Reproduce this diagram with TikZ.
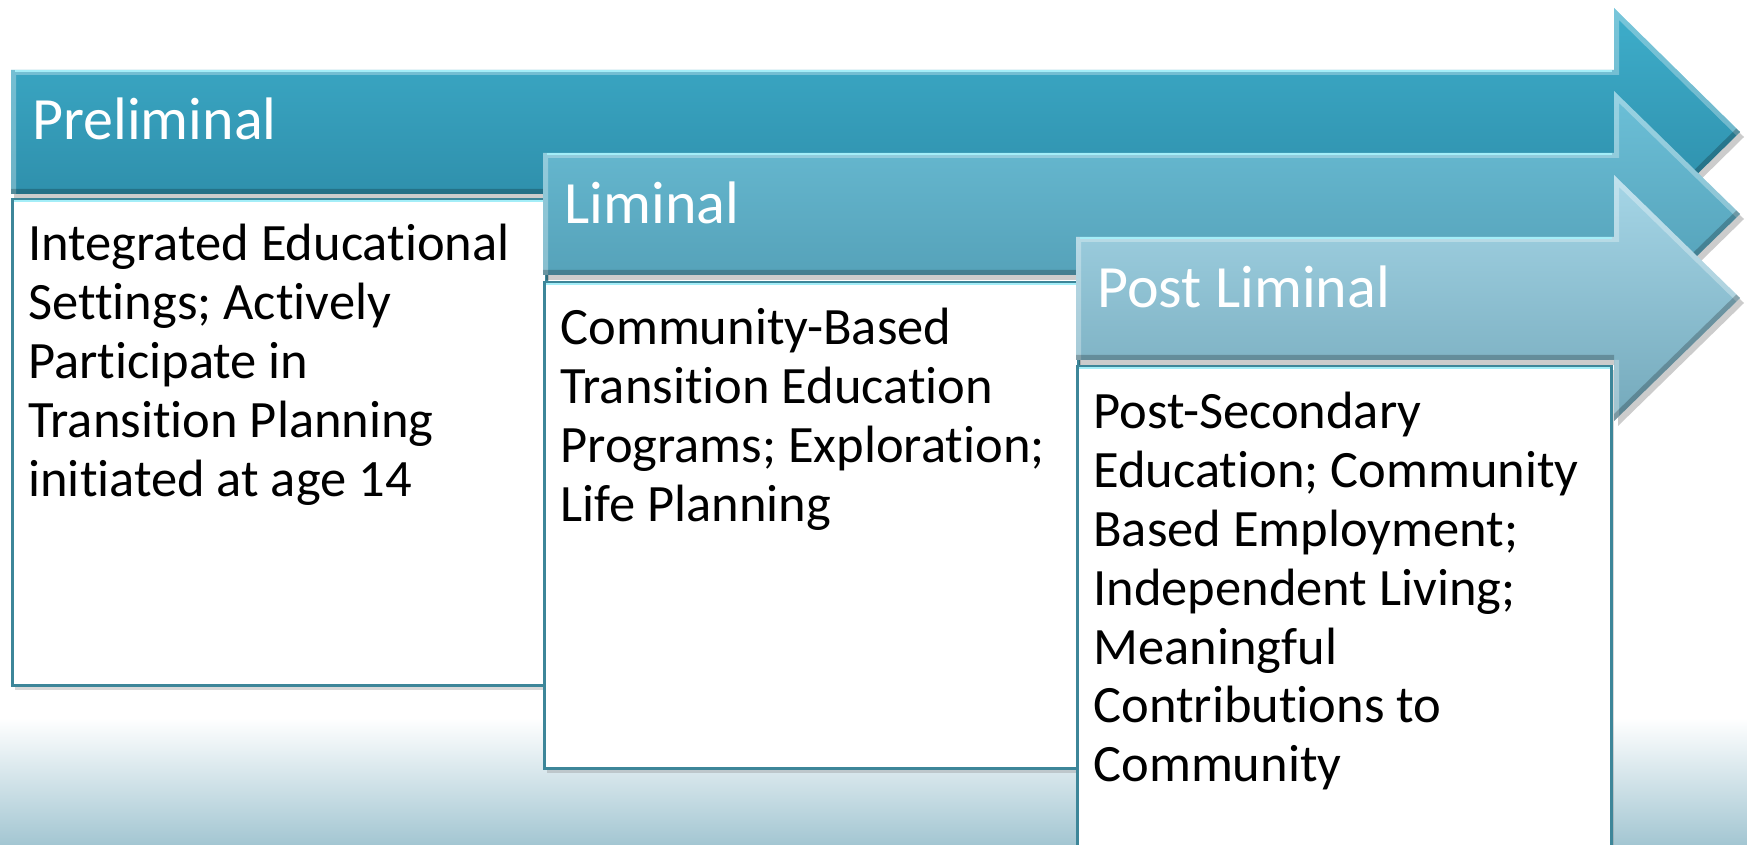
\documentclass[tikz,border=0pt]{standalone}
\usepackage{fontspec}
\setmainfont{Carlito}[Ligatures=NoCommon]
\usetikzlibrary{shadows}

\definecolor{aonetop}{HTML}{3EAECB}
\definecolor{aonebot}{HTML}{2A86A2}
\definecolor{atwotop}{HTML}{6CC0D8}
\definecolor{atwobot}{HTML}{4E98AF}
\definecolor{athreetop}{HTML}{A6D6E7}
\definecolor{athreebot}{HTML}{74A9BB}
\definecolor{boxedge}{HTML}{3D8699}
\definecolor{cyanhl}{HTML}{A4EEF8}
\definecolor{floorbot}{HTML}{A3C6D2}

% phase arrow: #1 left x, #2 shaft top, #3 shaft bottom, #4 tip y,
% #5 head top, #6 head bottom, #7 colour prefix
\newcommand\phasearrow[7]{%
  \fill[black,opacity=0.2]
    (#1+3,#2+5) -- (1618,#2+5) -- (1618,#5+5) -- (1744,#4+5) -- (1618,#6+5)
    -- (1618,#3+5) -- (#1+3,#3+5) -- cycle;
  \shade[top color=#7top, bottom color=#7bot]
    (#1,#2) -- (1614,#2) -- (1614,#5) -- (1740,#4) -- (1614,#6)
    -- (1614,#3) -- (#1,#3) -- cycle;
  \begin{scope}
    \clip (#1,#2) -- (1614,#2) -- (1614,#5) -- (1740,#4) -- (1614,#6)
      -- (1614,#3) -- (#1,#3) -- cycle;
    \draw[white,opacity=0.3,line width=5pt,line join=miter]
      (1614,#3) -- (1614,#6) (#1,#3) -- (#1,#2) -- (1614,#2) -- (1614,#5) -- (1740,#4);
    \draw[black,opacity=0.22,line width=5pt,line join=miter]
      (1740,#4) -- (1614,#6) (1614,#3) -- (#1,#3);
  \end{scope}
  \draw[cyanhl,line width=1.2pt] (#1+4,#2+1) -- (1612,#2+1);
}

\tikzset{
  headtext/.style={anchor=base west, inner sep=0pt, text=white,
    font=\fontsize{30}{36}\selectfont},
  bodytext/.style={anchor=base west, inner sep=0pt, text=black,
    font=\fontsize{26.25}{29.4}\selectfont},
  phasebox/.style={anchor=north west, draw=boxedge, line width=1.5pt,
    fill=white, minimum width=267pt, minimum height=243pt, inner sep=0pt,
    drop shadow={opacity=0.3, shadow xshift=1.2pt, shadow yshift=-2pt}},
}

\newcommand\boxtop[1]{%
  \draw[cyanhl,line width=1pt]
    ([xshift=1.5pt,yshift=-1.3pt]#1.north west) -- ([xshift=-1.5pt,yshift=-1.3pt]#1.north east);
}

\begin{document}
\begin{tikzpicture}[x=0.5pt,y=-0.5pt]
\useasboundingbox (0,0) rectangle (1747,845);
\clip (0,0) rectangle (1747,845);

% floor band
\shade[top color=white, bottom color=floorbot] (0,718) rectangle (1747,845);

% Preliminal
\phasearrow{11}{70}{194}{132}{8}{256}{aone}
\node[headtext] (h1) at (32,140) {Preliminal};
\node[phasebox] (b1) at (11,198) {};
\boxtop{b1}
\node[bodytext] (t1) at (28,261) {\parbox[t]{320pt}{Integrated Educational\\
Settings; Actively\\Participate in\\Transition Planning\\initiated at age 14}};

% Liminal
\phasearrow{543}{153}{275}{214}{91}{337}{atwo}
\node[headtext] (h2) at (564,224) {Liminal};
\node[phasebox] (b2) at (543,281) {};
\boxtop{b2}
\node[bodytext] (t2) at (560,345) {\parbox[t]{320pt}{Community-Based\\
Transition Education\\Programs; Exploration;\\Life Planning}};

% Post Liminal
\phasearrow{1076}{237}{360}{298}{175}{421}{athree}
\node[headtext] (h3) at (1097,308) {Post Liminal};
\node[phasebox] (b3) at (1076,365) {};
\boxtop{b3}
\node[bodytext] (t3) at (1093,429) {\parbox[t]{320pt}{Post-Secondary\\
Education; Community\\Based Employment;\\Independent Living;\\Meaningful\\
Contributions to\\Community}};
\end{tikzpicture}
\end{document}
